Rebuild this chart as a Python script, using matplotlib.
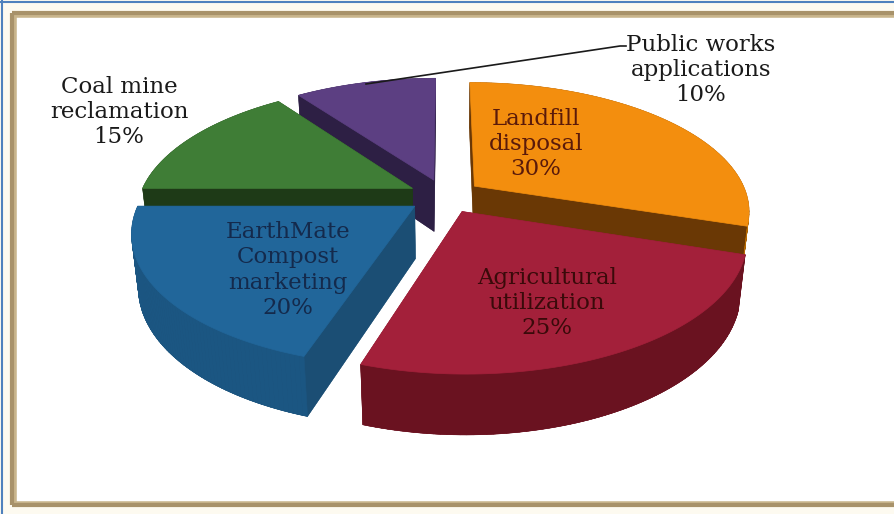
import numpy as np
import matplotlib
matplotlib.use("Agg")
import matplotlib.pyplot as plt
from matplotlib.patches import Polygon

# ---- data ----
categories = ["Landfill\ndisposal", "Agricultural\nutilization", "EarthMate\nCompost\nmarketing",
              "Coal mine\nreclamation", "Public works\napplications"]
values = [30, 25, 20, 15, 10]
top_colors = ["#F38E0E", "#A3203A", "#21669A", "#3F7D36", "#5C3F82"]
wall_colors = ["#B86A00", "#6A1220", "#1B5682", "#2F5F28", "#3A2857"]
radial_colors = ["#6A3805", "#7A1828", "#1B4E74", "#1E3A17", "#2D1F44"]
label_colors = ["#5A1A0A", "#3A0A0A", "#142A4C", "#1A1A1A", "#1A1A1A"]

# ---- projection parameters ----
W, H = 894, 514
cx, cy = 445, 196
S = 273.0
phi = np.radians(27.5)
D = 4.8
h = 0.22
e = 0.135
sphi, cphi = np.sin(phi), np.cos(phi)
cam = np.array([0.0, -D * cphi, D * sphi])


def proj(p):
    x, y, z = p
    yv = y * sphi + z * cphi
    tow = -y * cphi + z * sphi
    k = D / (D - tow)
    return (cx + S * x * k, cy - S * yv * k)


fig = plt.figure(figsize=(W / 100, H / 100), dpi=100)
fig.patch.set_facecolor("#FDFAF0")
ax = fig.add_axes([0, 0, 1, 1])
ax.set_xlim(0, W)
ax.set_ylim(H, 0)
ax.axis("off")

# frame
ax.add_patch(plt.Rectangle((12, 13), W, 491, facecolor="white", edgecolor="none", zorder=0))
for lw, col, dy in [(4, "#C9B58C", 1.5), (3, "#A8926A", 0)]:
    ax.plot([12, W], [13 + dy, 13 + dy], color=col, lw=lw, zorder=1, solid_capstyle="butt")
    ax.plot([12 + dy, 12 + dy], [13, 505], color=col, lw=lw, zorder=1, solid_capstyle="butt")
    ax.plot([12, W], [505 - dy, 505 - dy], color=col, lw=lw, zorder=1, solid_capstyle="butt")
ax.plot([0, W], [2, 2], color="#4F81BD", lw=1.5, zorder=1)
ax.plot([2, 2], [0, H], color="#4F81BD", lw=1.5, zorder=1)

fr = np.array(values, float) / sum(values)
starts = np.concatenate([[0], np.cumsum(fr)[:-1]]) * 2 * np.pi
ends = np.cumsum(fr) * 2 * np.pi
mids = (starts + ends) / 2

order = np.argsort(-np.cos(mids))  # back to front
z0 = 10
for i in order:
    a0, a1, am = starts[i], ends[i], mids[i]
    off = np.array([e * np.sin(am), e * np.cos(am)])
    ts = np.linspace(a0, a1, 80)
    arc = [np.array([off[0] + np.sin(t), off[1] + np.cos(t)]) for t in ts]
    apex = off
    top3 = [np.array([apex[0], apex[1], 0.0])] + [np.array([p[0], p[1], 0.0]) for p in arc]
    bot3 = [p + np.array([0, 0, -h]) for p in top3]
    top2 = [proj(p) for p in top3]
    bot2 = [proj(p) for p in bot3]

    ax.add_patch(Polygon(bot2, closed=True, facecolor=radial_colors[i], edgecolor="none", zorder=z0))
    n = len(top3)
    for j in range(n):
        k = (j + 1) % n
        quad = [top2[j], top2[k], bot2[k], bot2[j]]
        ax.add_patch(Polygon(quad, closed=True, facecolor=radial_colors[i],
                             edgecolor=radial_colors[i], lw=0.3, zorder=z0 + 1))
    for j in range(1, n - 1):
        t = (ts[j - 1] + ts[j]) / 2
        nrm = np.array([np.sin(t), np.cos(t), 0.0])
        p = (top3[j] + top3[j + 1]) / 2
        if np.dot(nrm, cam - p) > 0:
            quad = [top2[j], top2[j + 1], bot2[j + 1], bot2[j]]
            ax.add_patch(Polygon(quad, closed=True, facecolor=wall_colors[i],
                                 edgecolor=wall_colors[i], lw=0.4, zorder=z0 + 2))
    ax.add_patch(Polygon(top2, closed=True, facecolor=top_colors[i], edgecolor=top_colors[i],
                         lw=0.5, zorder=z0 + 3))
    z0 += 10

font = ["DejaVu Serif"]
fs = 16.5
labels = [f"{c}\n{v}%" for c, v in zip(categories, values)]
label_pos = [(536, 144), (547, 303), (288, 270), (119, 112), (701, 70)]
for lab, (x, y), col in zip(labels, label_pos, label_colors):
    ax.text(x, y, lab, ha="center", va="center", fontsize=fs, family=font,
            color=col, linespacing=1.2, zorder=200)

# leader line for Public works
ax.plot([366, 620, 626], [84, 46, 46], color="#1A1A1A", lw=1.2, zorder=150)

fig.savefig("out.png", dpi=100, facecolor=fig.get_facecolor())
